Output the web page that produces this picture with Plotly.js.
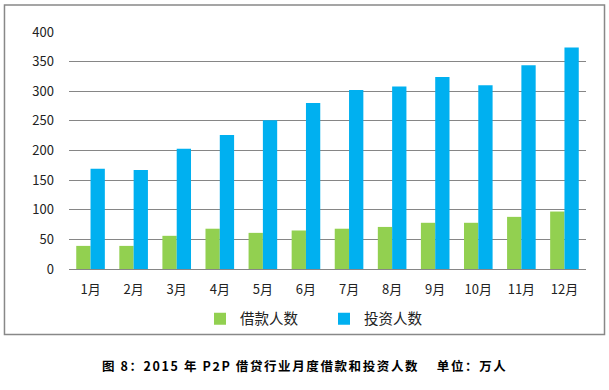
<!DOCTYPE html>
<html>
<head>
<meta charset="utf-8">
<script src="https://cdn.plot.ly/plotly-3.0.1.min.js"></script>
<style>
  html, body { margin: 0; padding: 0; background: #fff; }
  #chart { width: 609px; height: 390px; }
</style>
</head>
<body>
<div id="chart"></div>
<script>
const months = ["1月","2月","3月","4月","5月","6月","7月","8月","9月","10月","11月","12月"];
const borrowers = [39, 39, 56, 68, 61, 65, 68, 71, 78, 78, 88, 97];
const investors = [169, 167, 203, 226, 251, 280, 302, 308, 324, 310, 344, 374];
const yTicks = [0, 50, 100, 150, 200, 250, 300, 350, 400];
const seriesNames = ["借款人数", "投资人数"];
const caption = "图 8：2015 年 P2P 借贷行业月度借款和投资人数    单位：万人";

const font = "'Noto Sans CJK SC', 'Noto Sans', sans-serif";

const traces = [
  { type: "bar", x: months, y: borrowers, name: seriesNames[0], marker: { color: "#92D050" } },
  { type: "bar", x: months, y: investors, name: seriesNames[1], marker: { color: "#00B0F0" } }
];

const layout = {
  width: 609, height: 390,
  margin: { l: 69, r: 23, t: 32, b: 121 },
  paper_bgcolor: "#fff", plot_bgcolor: "#fff",
  barmode: "group", bargap: 0.336, bargroupgap: 0,
  font: { family: font, size: 13, color: "#222" },
  showlegend: true,
  legend: { orientation: "h", x: (324 - 69) / 517, xanchor: "center", y: -0.21, yanchor: "middle",
            bgcolor: "rgba(0,0,0,0)",
            font: { size: 14.5, color: "#222" }, itemwidth: 30, entrywidth: 79, traceorder: "normal" },
  xaxis: { type: "category", showgrid: false, showline: true, linecolor: "#868686", linewidth: 1,
           ticks: "", ticklabelstandoff: 8, tickfont: { size: 13 } },
  yaxis: { range: [0, 400], tickvals: yTicks, showgrid: true, gridcolor: "#868686", gridwidth: 1,
           zeroline: false, ticks: "", ticklabelstandoff: 14, tickfont: { size: 13 } },
  shapes: [{ type: "rect", xref: "paper", yref: "paper",
             x0: -0.1248, x1: 1.0358, y0: -0.2765, y1: 1.1136,
             line: { color: "#888", width: 1.5 }, fillcolor: "rgba(0,0,0,0)", layer: "above" }],
  annotations: [{ xref: "paper", yref: "paper", x: (304 - 69) / 517, y: (269.3 - 366) / 237.6,
                  xanchor: "center", yanchor: "middle", showarrow: false,
                  text: "<b><span style=\"letter-spacing:1.6px\">" + caption + "</span></b>",
                  font: { family: font, size: 12.5, color: "#000" } }]
};

Plotly.newPlot("chart", traces, layout, { displayModeBar: false, staticPlot: true });
</script>
</body>
</html>
